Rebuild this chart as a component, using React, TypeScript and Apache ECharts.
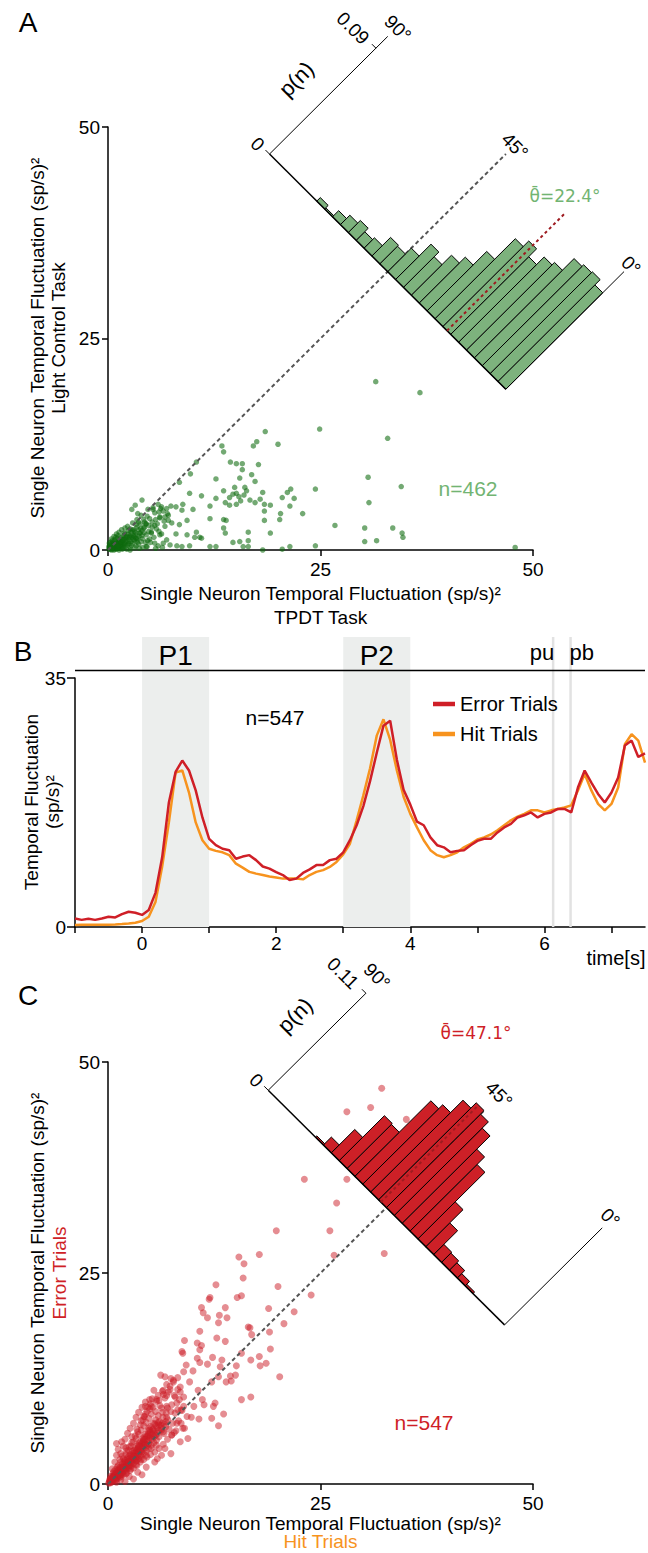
import React, { useEffect, useRef } from "react";
import * as echarts from "echarts";

const FONT = '"Liberation Sans", Arial, Helvetica, sans-serif';
const THETA_FONT = '"DejaVu Sans", "Liberation Sans", sans-serif';

// ---------------- Panel A data ----------------
const A_POINTS: number[][] = [
  [24.9, 14.3], [18.5, 14.0], [17.5, 12.8], [17.1, 12.3], [20.0, 12.5], [13.4, 12.3], [13.6, 11.6], [14.4, 10.4], [15.1, 10.2], [15.8, 10.2],
  [15.8, 9.5], [17.7, 10.1], [10.4, 10.4], [9.7, 9.0], [12.7, 8.4], [15.5, 8.5], [16.9, 8.9], [17.3, 8.1], [8.4, 8.0], [14.9, 7.4],
  [16.1, 7.4], [13.6, 7.0], [9.6, 6.7], [11.0, 6.4], [12.7, 6.1], [14.3, 6.2], [14.7, 6.6], [15.1, 6.7], [15.4, 6.3], [16.0, 6.5],
  [16.3, 7.0], [13.8, 5.6], [14.3, 5.3], [15.1, 5.4], [15.6, 5.8], [16.7, 5.9], [17.3, 5.6], [17.9, 6.0], [18.2, 6.8], [18.4, 5.4],
  [19.1, 5.3], [20.5, 6.2], [21.1, 6.8], [21.5, 7.2], [21.9, 6.1], [24.4, 7.2], [21.4, 5.2], [22.9, 4.3], [20.3, 4.3], [20.2, 3.6],
  [18.4, 4.6], [18.4, 3.5], [12.0, 5.2], [10.0, 4.8], [8.8, 5.4], [8.7, 4.7], [8.0, 5.1], [7.4, 5.2], [9.3, 3.5], [12.0, 3.7],
  [13.6, 3.6], [13.9, 3.5], [13.6, 2.6], [13.8, 2.0], [16.5, 2.1], [19.1, 2.0], [15.5, 1.0], [16.5, 1.1], [14.7, 0.9], [12.0, 0.4],
  [12.7, 0.4], [15.9, 0.4], [16.5, 0.4], [18.2, 0.0], [20.5, 0.1], [21.4, 0.4], [24.4, 0.5], [7.5, 3.2], [8.4, 3.0], [8.0, 1.9],
  [9.3, 1.8], [10.4, 2.1], [10.8, 1.5], [10.2, 1.5], [9.6, 0.5], [8.7, 0.4], [8.1, 0.5], [11.0, 1.4],
  [31.5, 19.9], [36.7, 18.6], [32.9, 13.2], [30.6, 8.6], [34.5, 7.5], [30.7, 5.6], [26.7, 2.9], [30.2, 2.6], [33.5, 2.6], [34.6, 2.0],
  [34.7, 1.5], [30.2, 1.0], [31.6, 1.1], [47.9, 0.3],
  [2.8, 4.8], [4.0, 5.9], [3.2, 5.3], [3.5, 4.3], [5.3, 4.8], [5.9, 5.4], [6.3, 5.1], [6.9, 4.9], [7.1, 4.1], [6.7, 3.9],
  [6.1, 3.9], [4.9, 3.7], [4.5, 3.1], [5.5, 2.9], [4.2, 2.6], [5.1, 2.0], [6.1, 1.8], [6.5, 0.8], [5.5, 0.8], [4.5, 0.4],
  [3.8, 2.0], [3.4, 1.2],
  [0.1, 0.1], [0.2, 0.3], [0.3, 0.1], [0.4, 0.5], [0.5, 0.2], [0.6, 0.7], [0.7, 0.3], [0.8, 0.1], [0.9, 0.6], [1.0, 0.9],
  [1.1, 0.4], [1.2, 0.2], [1.3, 0.8], [1.4, 1.1], [1.5, 0.5], [1.6, 0.3], [1.7, 1.0], [1.8, 0.7], [1.9, 1.3], [2.0, 0.4],
  [0.2, 0.6], [0.3, 0.9], [0.5, 1.1], [0.6, 0.4], [0.8, 1.2], [0.9, 0.3], [1.1, 1.4], [1.2, 0.7], [1.4, 0.2], [1.5, 1.5],
  [1.6, 0.9], [1.8, 1.7], [2.1, 1.0], [2.2, 1.6], [2.3, 0.6], [2.4, 1.9], [2.5, 1.2], [2.6, 0.3], [2.7, 2.1], [2.8, 1.5],
  [2.9, 0.8], [3.0, 2.4], [3.1, 1.1], [3.2, 1.8], [3.3, 0.5], [3.4, 2.7], [0.4, 0.0], [0.7, 0.0], [1.0, 0.1], [1.3, 0.0],
  [1.7, 0.1], [2.2, 0.1], [2.6, 0.0], [0.1, 0.4], [0.15, 0.8], [0.4, 1.3], [0.7, 1.6], [1.0, 1.9], [1.3, 2.1], [1.6, 2.4],
  [2.0, 2.6], [2.3, 2.8], [0.9, 1.5], [1.2, 1.7], [1.9, 2.0], [2.4, 2.3], [0.35, 0.25], [0.55, 0.55], [0.75, 0.8], [1.05, 0.55],
  [1.25, 1.05], [0.45, 0.75], [0.65, 1.0], [0.85, 0.45], [1.35, 0.45], [1.55, 0.75], [1.75, 0.45], [1.95, 0.75], [2.15, 1.3], [2.35, 0.95],
  [2.55, 1.55], [2.75, 0.55], [2.95, 1.25], [3.15, 0.25], [3.5, 1.4], [3.6, 0.7], [3.7, 2.0], [3.8, 3.1], [3.9, 1.0], [4.0, 2.3],
  [4.1, 0.3], [4.2, 3.6], [4.5, 1.8], [4.6, 4.0], [4.8, 2.9], [5.0, 0.9], [5.2, 3.3], [5.4, 1.5], [5.5, 4.4], [5.7, 2.5],
  [5.9, 0.5], [6.1, 3.8], [6.3, 1.9], [6.5, 4.6], [6.7, 2.8], [6.9, 1.2], [7.1, 3.5], [7.3, 0.6], [3.6, 3.3], [4.3, 2.7],
  [3.9, 4.1], [5.1, 2.1], [4.4, 0.9], [6.0, 2.2], [5.3, 5.0], [3.3, 3.0], [2.9, 3.2], [3.1, 2.2], [2.6, 2.5], [3.4, 3.6],
  [4.7, 4.8], [6.2, 4.9], [7.0, 4.3], [5.8, 3.1], [4.9, 1.3], [3.7, 0.2], [4.6, 0.4], [5.6, 0.2], [6.4, 0.3], [2.0, 1.9],
  [0.3, 0.4], [0.6, 0.15], [0.95, 0.25], [1.15, 0.85], [1.45, 0.65], [1.65, 1.25], [1.85, 0.2], [2.05, 1.45], [2.45, 0.75], [2.65, 1.75],
  [2.85, 2.35], [3.05, 1.55], [3.25, 2.05], [3.45, 0.95], [3.65, 1.65], [3.85, 2.55], [4.05, 1.35], [4.25, 2.05], [4.45, 3.1], [4.65, 1.1],
  [0.25, 0.15], [0.5, 0.35], [0.8, 0.55], [1.1, 0.25], [1.4, 0.9],
  [0.2, 0.2], [0.45, 0.1], [0.65, 0.45], [0.95, 0.7], [1.2, 0.5], [1.5, 1.0], [1.8, 1.2], [2.1, 0.7], [2.4, 1.5], [2.7, 1.0],
  [3.0, 1.7], [3.3, 1.4], [3.6, 2.4], [4.0, 1.7], [4.3, 3.3], [4.8, 2.2], [5.2, 2.7], [5.6, 3.6], [6.0, 4.5], [6.6, 3.4],
];
// p(n) per 3° bin, starting at 0°
const A_HIST: number[] = [
  0.082, 0.0865, 0.0858, 0.0844, 0.0745, 0.0724, 0.066, 0.0727, 0.068, 0.0505,
  0.039, 0.034, 0.026, 0.030, 0.020, 0.015, 0.0158, 0.0088, 0.0073, 0.0102,
  0.008, 0.0052, 0.001, 0.003, 0, 0, 0, 0, 0, 0,
];
const A_MEAN = 22.4;

// ---------------- Panel B data ----------------
const B_TIME: number[] = [
  -1.0, -0.9, -0.8, -0.7, -0.6, -0.5, -0.4, -0.3, -0.2, -0.1,
  0.0, 0.1, 0.2, 0.3, 0.4, 0.5, 0.6, 0.7, 0.8, 0.9,
  1.0, 1.1, 1.2, 1.3, 1.4, 1.5, 1.6, 1.7, 1.8, 1.9,
  2.0, 2.1, 2.2, 2.3, 2.4, 2.5, 2.6, 2.7, 2.8, 2.9,
  3.0, 3.1, 3.2, 3.3, 3.4, 3.5, 3.6, 3.7, 3.8, 3.9,
  4.0, 4.1, 4.2, 4.3, 4.4, 4.5, 4.6, 4.7, 4.8, 4.9,
  5.0, 5.1, 5.2, 5.3, 5.4, 5.5, 5.6, 5.7, 5.8, 5.9,
  6.0, 6.1, 6.2, 6.3, 6.4, 6.5, 6.6, 6.7, 6.8, 6.9,
  7.0, 7.1, 7.2, 7.3, 7.4, 7.5,
];
const B_ERROR: number[] = [
  1.2, 1.0, 1.15, 1.0, 1.2, 1.45, 1.35, 1.8, 2.15, 2.0,
  1.7, 2.4, 4.8, 9.8, 17.5, 21.8, 23.4, 22.0, 19.2, 15.4,
  12.4, 11.5, 11.0, 10.8, 9.6, 9.9, 10.1, 9.4, 8.5, 8.2,
  7.7, 7.3, 6.6, 6.8, 7.6, 8.1, 8.7, 8.7, 9.4, 9.6,
  10.5, 12.2, 14.3, 17.0, 20.5, 24.5, 28.3, 29.0, 23.5, 19.3,
  17.2, 14.8, 14.3, 12.6, 11.5, 11.2, 10.5, 10.7, 10.8, 11.5,
  12.1, 12.4, 12.4, 13.3, 14.0, 14.5, 15.4, 15.7, 16.1, 15.4,
  15.9, 16.1, 16.6, 16.6, 16.1, 19.6, 22.0, 20.3, 18.7, 17.5,
  18.9, 21.0, 25.5, 26.2, 23.9, 24.4,
];
const B_HIT: number[] = [
  0.28, 0.3, 0.3, 0.3, 0.32, 0.33, 0.36, 0.42, 0.5, 0.6,
  0.84, 1.45, 3.5, 8.5, 14.7, 21.7, 22.0, 18.9, 14.7, 12.2,
  11.0, 10.7, 10.5, 10.1, 8.9, 8.35, 7.75, 7.5, 7.3, 7.1,
  6.95, 6.8, 6.8, 6.8, 6.7, 7.3, 7.75, 8.0, 8.45, 9.15,
  10.2, 11.7, 15.0, 18.5, 22.3, 26.9, 29.2, 26.3, 22.0, 18.3,
  15.9, 14.0, 12.2, 10.8, 10.1, 9.8, 10.1, 10.5, 11.2, 11.7,
  12.3, 12.6, 13.0, 13.6, 14.3, 15.0, 15.5, 15.9, 16.4, 16.4,
  16.1, 16.4, 16.6, 16.8, 17.1, 19.2, 21.5, 19.2, 17.3, 16.4,
  17.3, 19.6, 25.7, 27.1, 26.2, 23.1,
];
const B_EPOCHS = [
  { name: "P1", from: 0, to: 1 },
  { name: "P2", from: 3, to: 4 },
];
const B_EVENTS = [
  { name: "pu", t: 6.13, side: "left" },
  { name: "pb", t: 6.39, side: "right" },
];
const B_X_TICKS = [-1, 0, 1, 2, 3, 4, 5, 6, 7];
const B_X_LABELS = [0, 2, 4, 6];

// ---------------- Panel C data ----------------
const C_POINTS: number[][] = [
  [13.0, 19.1], [16.5, 18.6], [10.8, 18.1], [9.0, 17.0], [10.5, 16.7], [11.0, 16.4], [12.8, 17.3], [13.8, 16.9], [16.9, 17.7], [8.7, 15.7],
  [8.8, 15.5], [10.8, 15.9], [10.5, 14.9], [12.3, 15.0], [11.7, 14.2], [10.8, 14.4], [9.2, 14.1], [10.0, 13.4], [8.9, 13.3], [13.4, 14.7],
  [15.1, 14.0], [15.0, 12.9], [14.4, 12.8], [13.0, 12.7], [13.9, 12.1], [15.7, 15.5], [17.8, 15.1], [18.6, 14.3], [17.9, 14.0], [16.8, 14.7],
  [6.2, 12.9], [6.7, 12.7], [7.4, 12.5], [8.2, 12.6], [7.7, 12.1], [8.5, 11.5], [8.5, 10.9], [9.6, 12.1], [5.4, 11.1], [6.5, 11.1],
  [7.3, 11.2], [6.9, 10.5], [8.9, 10.3], [7.9, 10.3], [5.7, 10.0], [4.9, 10.0], [4.4, 9.2], [5.1, 9.2], [6.3, 9.0], [6.9, 9.2],
  [8.2, 8.8], [8.7, 8.7], [10.6, 11.1], [11.1, 10.0], [10.1, 9.2], [11.3, 9.4], [9.8, 7.9], [10.7, 7.7], [12.6, 9.6], [12.4, 9.2],
  [12.2, 7.8], [13.0, 6.9], [9.4, 5.4], [8.8, 6.6], [8.6, 7.2], [8.1, 7.2], [7.8, 6.1], [7.5, 5.8], [6.5, 6.2], [6.3, 3.4],
  [7.4, 3.6], [6.7, 4.2], [15.7, 10.0], [16.8, 10.3], [12.2, 12.1], [14.5, 12.2], [13.2, 13.9], [4.2, 8.0], [13.6, 8.3],
  [15.4, 26.9], [17.8, 27.2], [16.0, 26.1], [26.6, 27.1], [32.5, 27.3], [15.9, 24.4], [12.7, 23.6], [15.7, 22.3], [15.2, 22.1], [12.0, 22.1],
  [11.9, 21.9], [20.0, 23.4], [23.9, 22.4], [11.0, 20.9], [11.2, 20.3], [13.8, 20.9], [13.1, 20.0], [11.7, 19.7], [14.0, 19.7], [18.9, 20.8],
  [21.9, 20.4], [16.7, 18.5], [20.7, 19.0], [19.1, 16.0], [20.2, 12.7], [19.0, 18.0], [32.2, 46.9], [28.1, 44.1], [30.9, 44.6], [35.1, 43.2],
  [23.1, 36.1], [28.1, 36.1], [26.9, 33.3], [19.8, 30.0], [26.1, 30.0],
  [0.1, 0.1], [0.2, 0.3], [0.3, 0.6], [0.4, 0.2], [0.5, 0.4], [0.5, 0.9], [0.6, 0.3], [0.7, 0.7], [0.8, 1.2], [0.9, 0.6],
  [1.0, 1.0], [1.1, 1.6], [1.2, 0.9], [1.3, 1.3], [1.4, 2.0], [1.5, 1.1], [1.6, 1.7], [1.7, 2.4], [1.8, 1.4], [1.9, 2.0],
  [2.0, 2.8], [2.1, 1.6], [2.2, 2.3], [2.3, 3.1], [2.4, 1.9], [2.5, 2.7], [2.6, 3.5], [2.7, 2.1], [2.8, 3.0], [2.9, 3.9],
  [3.0, 2.4], [3.1, 3.3], [3.2, 4.2], [3.3, 2.7], [3.4, 3.7], [3.5, 4.6], [3.6, 3.0], [3.7, 4.0], [3.8, 5.0], [3.9, 3.3],
  [4.0, 4.4], [4.1, 5.4], [4.2, 3.6], [4.3, 4.8], [4.4, 5.9], [4.5, 3.9], [4.6, 5.1], [4.7, 6.3], [4.8, 4.2], [4.9, 5.5],
  [5.0, 6.8], [5.1, 4.6], [5.2, 5.9], [5.3, 7.2], [5.4, 4.9], [5.5, 6.3], [5.6, 7.6], [5.7, 5.2], [5.8, 6.7], [5.9, 8.1],
  [6.0, 5.6], [6.2, 7.0], [6.4, 8.5], [6.6, 6.0], [6.8, 7.4], [7.0, 9.0], [7.2, 6.5], [0.3, 0.9], [0.6, 1.3], [0.9, 1.7],
  [1.2, 2.2], [1.5, 2.6], [1.8, 3.0], [2.1, 3.5], [2.4, 4.0], [2.7, 4.5], [3.0, 5.0], [3.3, 5.4], [3.6, 5.9], [3.9, 6.4],
  [4.2, 6.9], [4.5, 7.3], [4.8, 7.8], [5.1, 8.3], [1.0, 0.5], [1.4, 0.8], [1.8, 1.1], [2.2, 1.3], [2.6, 1.6], [3.0, 1.9],
  [3.4, 2.2], [3.8, 2.6], [4.2, 2.9], [4.6, 3.2], [5.0, 3.5], [5.5, 3.8], [6.0, 4.2], [6.5, 4.7], [7.0, 5.3], [7.5, 5.8],
  [8.0, 6.3], [1.3, 1.8], [1.9, 2.6], [2.5, 3.3], [3.1, 4.0], [3.7, 4.8], [4.3, 5.6], [4.9, 6.4], [5.5, 7.1], [0.8, 0.9],
  [2.3, 2.6], [2.9, 3.4], [3.5, 4.1], [4.1, 4.9], [4.7, 5.7], [5.3, 6.5], [5.9, 7.3], [6.3, 6.4], [6.9, 7.9], [7.4, 8.6],
  [6.1, 9.3], [5.7, 9.8], [6.7, 10.2], [7.6, 7.2], [8.3, 7.5], [8.6, 8.8], [8.1, 9.6], [7.8, 10.5], [6.4, 11.0], [0.5, 1.8],
  [0.8, 2.6], [1.0, 3.4], [1.2, 4.1], [1.0, 4.8], [1.5, 3.6], [1.8, 4.5], [2.0, 5.3], [2.3, 6.0], [2.6, 6.6], [3.0, 7.2],
  [3.3, 7.9], [3.6, 8.5], [4.0, 9.1], [4.3, 8.0], [2.8, 5.6], [3.4, 6.5], [1.6, 5.0], [2.1, 4.3], [3.9, 7.5], [4.6, 8.6],
  [5.0, 9.5], [4.4, 9.7], [1.5, 0.5], [2.5, 0.9], [3.5, 1.4], [4.5, 2.0], [5.5, 2.6], [5.8, 3.0], [4.0, 1.1], [3.0, 0.6],
  [2.0, 0.3], [1.0, 0.2], [8.5, 5.0], [9.0, 6.6], [0.2, 0.5], [0.4, 0.7], [0.6, 0.5], [0.7, 1.0], [0.9, 1.2], [1.1, 0.8],
  [1.3, 1.5], [1.5, 1.9], [1.7, 1.2], [2.0, 2.1], [2.2, 1.8], [2.4, 2.4], [2.6, 2.2], [2.8, 2.6], [3.2, 3.0], [3.4, 2.8],
  [3.6, 3.6], [3.8, 3.4], [4.0, 3.8], [4.4, 4.3], [4.8, 4.8], [5.2, 5.3], [5.6, 5.8], [6.0, 6.3], [6.4, 7.2], [6.8, 6.8],
  [0.15, 0.2], [0.25, 0.45], [0.35, 0.3], [0.45, 0.6], [0.55, 0.75], [0.65, 0.55], [0.75, 0.9], [0.85, 1.05], [0.95, 0.8], [1.05, 1.3],
  [1.15, 1.1], [1.25, 1.6], [1.35, 1.0], [1.45, 1.4], [1.55, 1.8], [1.65, 1.4], [1.75, 2.1], [1.85, 1.7], [1.95, 2.4], [2.05, 1.9],
  [2.15, 2.6], [2.25, 2.1], [2.35, 2.9], [2.45, 2.2], [2.55, 3.0], [2.65, 2.6], [2.75, 3.3], [2.85, 2.8], [2.95, 3.6], [3.05, 2.9],
  [3.15, 3.7], [3.25, 3.2], [3.35, 4.0], [3.45, 3.3], [3.55, 4.3], [3.65, 3.8], [3.75, 4.5], [3.85, 4.0], [3.95, 4.8], [4.05, 4.1],
  [4.15, 5.1], [4.25, 4.5], [4.35, 5.3], [4.45, 4.7], [4.55, 5.6], [4.65, 4.6], [4.75, 5.9], [4.85, 5.2], [4.95, 6.1], [5.05, 5.7],
  [5.25, 6.4], [5.45, 5.6], [5.65, 6.9], [5.85, 6.0], [6.05, 7.4], [6.25, 6.6], [6.45, 7.9], [6.65, 7.1], [6.85, 8.4], [7.05, 7.6],
  [0.3, 0.15], [0.6, 0.8], [0.9, 0.4], [1.2, 1.25], [1.5, 0.85], [1.8, 1.9], [2.1, 1.2], [2.4, 2.6], [2.7, 1.8], [3.0, 3.2],
  [3.3, 2.3], [3.6, 4.5], [3.9, 2.9], [4.2, 5.3], [4.5, 3.4], [4.8, 6.6], [5.1, 4.2], [5.4, 6.0], [5.7, 4.6], [6.0, 7.0],
  [0.7, 1.5], [1.1, 2.0], [1.4, 2.9], [1.7, 3.3], [2.2, 3.9], [2.5, 4.4], [2.8, 4.9], [3.2, 5.7], [3.5, 6.2], [3.8, 7.0],
  [4.1, 7.6], [4.4, 8.3], [4.9, 8.9], [5.3, 9.1], [5.6, 8.6], [6.0, 9.9], [6.5, 10.6], [7.1, 10.9], [7.3, 11.6], [6.9, 11.8],
  [7.5, 9.4], [7.9, 8.4], [8.4, 10.0], [8.2, 11.2], [5.9, 10.5], [5.2, 10.1], [4.7, 9.1], [7.7, 12.3], [8.9, 9.2], [9.3, 8.0],
];
const C_HIST: number[] = [
  0, 0, 0, 0, 0.0018, 0.005, 0.0084, 0.0105, 0.0115, 0.027,
  0.042, 0.0755, 0.084, 0.099, 0.106, 0.110, 0.104, 0.090, 0.0856, 0.050,
  0.051, 0.0265, 0.009, 0.0015, 0, 0, 0, 0, 0, 0,
];
const C_MEAN = 47.1;

const BIN_DEG = 3;

// ---------------- colours / layout ----------------
const GREEN_PT = "#0d6b0d";
const GREEN_TXT = "#72b472";
const GREEN_BAR = "#7db27d";
const RED = "#cf1f27";
const RED_PT = "#cc1c26";
const ORANGE = "#f7931e";

const B_BAND_TOP = 40.76;
const B_LABEL_Y = 38.2;
const B_EVENT_LABEL_Y = 38.6;
const B_TOPLINE = 36.05;
const B_XMIN = -1;
const B_XMAX = 7.5;

type Frame = {
  s: number; h: number; k: number; arm: number; tick: number; tickLabel: string;
  mean: number; fill: string; off90: number[]; off45: number[]; off0: number[];
};

const FRAME_A: Frame = {
  s: 65.8, h: 13.9, k: 139.1, arm: 0.1, tick: 0.09, tickLabel: "0.09",
  mean: A_MEAN, fill: GREEN_BAR, off90: [10, -8], off45: [9, -8], off0: [7, -6],
};
const FRAME_C: Frame = {
  s: 65.5, h: 13.9, k: 104.5, arm: 0.11, tick: 0.11, tickLabel: "0.11",
  mean: C_MEAN, fill: "#cd2027", off90: [11, -17], off45: [15, -16], off0: [8, -10],
};

function basePt(F: Frame, a: number) {
  const t = a / 90;
  return [F.s / 2 + F.h - 2 * F.h * t, F.s / 2 - F.h + 2 * F.h * t];
}
function lift(F: Frame, pt: number[], p: number) {
  return [pt[0] + F.k * p, pt[1] + F.k * p];
}

function txt(x: number, y: number, text: string, rot = 0, size = 19, color = "#000") {
  return {
    type: "text",
    x,
    y,
    rotation: rot,
    style: { text, fill: color, fontSize: size, fontFamily: FONT, align: "center", verticalAlign: "middle" },
  };
}
function ln(p: number[], q: number[], w = 1, stroke = "#000", dash?: number[]) {
  const style: any = { stroke, lineWidth: w };
  if (dash) style.lineDash = dash;
  return { type: "line", shape: { x1: p[0], y1: p[1], x2: q[0], y2: q[1] }, style };
}

function histSeries(F: Frame, hist: number[], idx: number) {
  const bins = hist
    .map((p, i) => [i * BIN_DEG, (i + 1) * BIN_DEG, p])
    .filter((b) => b[2] > 0);
  const R = Math.SQRT1_2;
  return [
    {
      type: "custom",
      xAxisIndex: idx,
      yAxisIndex: idx,
      z: 3,
      clip: false,
      silent: true,
      data: [[0, 0]],
      renderItem: (_p: any, api: any) => {
        const c = F.s / 2 + F.k * F.arm;
        return ln(api.coord([0, 0]), api.coord([c, c]), 2, "#555", [4, 3]);
      },
    },
    {
      type: "custom",
      xAxisIndex: idx,
      yAxisIndex: idx,
      z: 4,
      clip: false,
      silent: true,
      data: bins,
      renderItem: (_p: any, api: any) => {
        const a0 = api.value(0);
        const a1 = api.value(1);
        const p = api.value(2);
        const b0 = basePt(F, a0);
        const b1 = basePt(F, a1);
        const pts = [b0, b1, lift(F, b1, p), lift(F, b0, p)].map((q) => api.coord(q));
        return {
          type: "polygon",
          shape: { points: pts },
          style: { fill: F.fill, stroke: "#000", lineWidth: 1 },
        };
      },
    },
    {
      type: "custom",
      xAxisIndex: idx,
      yAxisIndex: idx,
      z: 5,
      clip: false,
      silent: true,
      data: [[0, 0]],
      renderItem: (_p: any, api: any) => {
        const b90 = api.coord(basePt(F, 90));
        const b0 = api.coord(basePt(F, 0));
        const a90 = api.coord(lift(F, basePt(F, 90), F.arm));
        const a0 = api.coord(lift(F, basePt(F, 0), F.arm));
        const tk = api.coord(lift(F, basePt(F, 90), F.tick));
        const m0 = api.coord(basePt(F, F.mean));
        const m1 = api.coord(lift(F, basePt(F, F.mean), F.arm));
        const d45 = api.coord(lift(F, basePt(F, 45), F.arm));
        const pn = [b90[0] + 72 * R - 24, b90[1] - 72 * R - 24];
        return {
          type: "group",
          children: [
            ln(b90, b0, 1.5),
            ln(b90, a90, 1),
            ln(b0, a0, 1),
            ln(b90, [b90[0] - 4, b90[1] - 4], 1),
            ln(tk, [tk[0] - 4, tk[1] - 4], 1),
            ln(m0, m1, 2, "#9e1b20", [3, 3]),
            txt(b90[0] - 12, b90[1] - 10, "0", -Math.PI / 4),
            txt(tk[0] - 23, tk[1] - 20, F.tickLabel, -Math.PI / 4),
            txt(a90[0] + F.off90[0], a90[1] + F.off90[1], "90°", -Math.PI / 4),
            txt(pn[0], pn[1], "p(n)", Math.PI / 4, 22),
            txt(d45[0] + F.off45[0], d45[1] + F.off45[1], "45°", -Math.PI / 4),
            txt(a0[0] + F.off0[0], a0[1] + F.off0[1], "0°", -Math.PI / 4),
          ],
        };
      },
    },
  ];
}

function scatterAxis(idx: number, labelMargin: number) {
  return {
    gridIndex: idx,
    type: "value",
    min: 0,
    max: 50,
    interval: 25,
    axisLine: { show: true, onZero: false, lineStyle: { color: "#000", width: 1.5 } },
    axisTick: { show: true, length: 6, lineStyle: { color: "#000", width: 1.5 } },
    axisLabel: { fontSize: 19, color: "#000", fontFamily: FONT, margin: labelMargin },
    splitLine: { show: false },
  };
}

function buildOption() {
  const T = (x: number, y: number, text: string, o: any = {}) => ({
    type: "text",
    x,
    y,
    rotation: o.rot || 0,
    z: 100,
    style: {
      text,
      fontSize: o.size || 19,
      fontFamily: o.font || FONT,
      fill: o.color || "#000",
      align: "center",
      verticalAlign: "middle",
    },
  });
  const V = Math.PI / 2;
  const TITLE = "Single Neuron Temporal Fluctuation (sp/s)²";

  return {
    animation: false,
    backgroundColor: "#fff",
    grid: [
      { left: 108, top: 127, width: 425, height: 423, outerBoundsMode: "none" },
      { left: 75, top: 678, width: 570, height: 249, outerBoundsMode: "none" },
      { left: 108, top: 1062, width: 425, height: 422, outerBoundsMode: "none" },
    ],
    xAxis: [
      scatterAxis(0, 10),
      {
        gridIndex: 1,
        type: "value",
        min: B_XMIN,
        max: B_XMAX,
        interval: 1,
        axisLine: { show: true, onZero: false, lineStyle: { color: "#000", width: 1.5 } },
        axisTick: { show: true, length: 6, customValues: B_X_TICKS, lineStyle: { color: "#000", width: 1.5 } },
        axisLabel: {
          fontSize: 19,
          color: "#000",
          fontFamily: FONT,
          margin: 7,
          customValues: B_X_LABELS,
          formatter: (v: number) => (B_X_LABELS.indexOf(v) >= 0 ? String(v) : ""),
        },
        splitLine: { show: false },
      },
      scatterAxis(2, 10),
    ],
    yAxis: [
      scatterAxis(0, 8),
      {
        gridIndex: 1,
        type: "value",
        min: 0,
        max: 35,
        interval: 35,
        axisLine: { show: true, onZero: false, lineStyle: { color: "#000", width: 1.5 } },
        axisTick: { show: true, length: 8, lineStyle: { color: "#000", width: 1.5 } },
        axisLabel: { fontSize: 19, color: "#000", fontFamily: FONT, margin: 9 },
        splitLine: { show: false },
      },
      scatterAxis(2, 8),
    ],
    legend: {
      data: ["Error Trials", "Hit Trials"],
      orient: "vertical",
      left: 428,
      top: 689,
      itemWidth: 22,
      itemHeight: 4.5,
      itemGap: 10,
      icon: "rect",
      selectedMode: false,
      textStyle: { fontSize: 20, fontFamily: FONT, color: "#000" },
    },
    series: [
      // Panel A
      {
        type: "scatter",
        xAxisIndex: 0,
        yAxisIndex: 0,
        z: 2,
        silent: true,
        symbolSize: 5.5,
        itemStyle: { color: GREEN_PT, opacity: 0.58 },
        data: A_POINTS,
      },
      ...histSeries(FRAME_A, A_HIST, 0),
      // Panel B
      {
        type: "custom",
        xAxisIndex: 1,
        yAxisIndex: 1,
        z: 1,
        clip: false,
        silent: true,
        data: [[0, 0]],
        renderItem: (_p: any, api: any) => {
          const children: any[] = [];
          B_EPOCHS.forEach((e) => {
            const p0 = api.coord([e.from, 0]);
            const p1 = api.coord([e.to, B_BAND_TOP]);
            children.push({
              type: "rect",
              shape: { x: p0[0], y: p1[1], width: p1[0] - p0[0], height: p0[1] - p1[1] },
              style: { fill: "#eceeed" },
            });
          });
          B_EVENTS.forEach((ev) => {
            const p0 = api.coord([ev.t, 0]);
            const p1 = api.coord([ev.t, B_BAND_TOP]);
            children.push(ln(p0, p1, 2.5, "#e2e2e2"));
          });
          children.push(ln(api.coord([B_XMIN, B_TOPLINE]), api.coord([B_XMAX, B_TOPLINE]), 1.5, "#000"));
          B_EPOCHS.forEach((e) => {
            const lp = api.coord([(e.from + e.to) / 2, B_LABEL_Y]);
            children.push(txt(lp[0], lp[1], e.name, 0, 28));
          });
          B_EVENTS.forEach((ev) => {
            const lp = api.coord([ev.t, B_EVENT_LABEL_Y]);
            children.push({
              type: "text",
              x: ev.side === "left" ? lp[0] + 1 : lp[0] - 1,
              y: lp[1],
              style: {
                text: ev.name,
                fill: "#000",
                fontSize: 22,
                fontFamily: FONT,
                align: ev.side === "left" ? "right" : "left",
                verticalAlign: "middle",
              },
            });
          });
          return { type: "group", children };
        },
      },
      {
        type: "line",
        name: "Hit Trials",
        xAxisIndex: 1,
        yAxisIndex: 1,
        z: 3,
        silent: true,
        showSymbol: false,
        symbol: "none",
        lineStyle: { color: ORANGE, width: 2.5 },
        itemStyle: { color: ORANGE },
        data: B_TIME.map((t, i) => [t, B_HIT[i]]),
      },
      {
        type: "line",
        name: "Error Trials",
        xAxisIndex: 1,
        yAxisIndex: 1,
        z: 3,
        silent: true,
        showSymbol: false,
        symbol: "none",
        lineStyle: { color: RED, width: 2.5 },
        itemStyle: { color: RED },
        data: B_TIME.map((t, i) => [t, B_ERROR[i]]),
      },
      // Panel C
      {
        type: "scatter",
        xAxisIndex: 2,
        yAxisIndex: 2,
        z: 2,
        silent: true,
        symbolSize: 7,
        itemStyle: { color: RED_PT, opacity: 0.5 },
        data: C_POINTS,
      },
      ...histSeries(FRAME_C, C_HIST, 2),
    ],
    graphic: {
      elements: [
        T(28, 22, "A", { size: 28 }),
        T(23, 651, "B", { size: 28 }),
        T(28, 995, "C", { size: 28 }),
        T(37, 338, TITLE, { rot: V }),
        T(58, 338, "Light Control Task", { rot: V }),
        T(320.5, 593, TITLE),
        T(320.5, 617, "TPDT Task"),
        T(468, 488, "n=462", { size: 21, color: GREEN_TXT }),
        T(565, 196, "θ\u0304=22.4°", { color: GREEN_TXT, size: 17, font: THETA_FONT }),
        T(31, 802, "Temporal Fluctuation", { rot: V }),
        T(52, 802, "(sp/s)²", { rot: V }),
        T(275, 717, "n=547", { size: 21 }),
        T(616, 958, "time[s]", { size: 20 }),
        T(37, 1273, TITLE, { rot: V }),
        T(59, 1273, "Error Trials", { rot: V, color: RED }),
        T(320.5, 1523, TITLE),
        T(320.5, 1541, "Hit Trials", { color: ORANGE }),
        T(424, 1422, "n=547", { size: 21, color: RED }),
        T(476, 1033, "θ\u0304=47.1°", { color: RED, size: 17, font: THETA_FONT }),
      ],
    },
  };
}

export default function App() {
  const ref = useRef<HTMLDivElement>(null);
  useEffect(() => {
    if (!ref.current) return;
    const chart = echarts.init(ref.current, null, { renderer: "svg", width: 648, height: 1553 });
    chart.setOption(buildOption() as any);
    return () => chart.dispose();
  }, []);
  return (
    <div
      ref={ref}
      style={{ position: "absolute", left: 0, top: 0, width: 648, height: 1553, background: "#fff" }}
    />
  );
}
